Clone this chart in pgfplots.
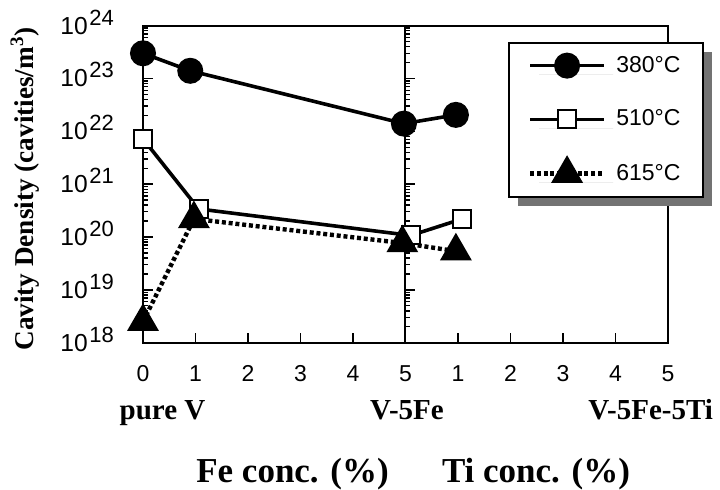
\documentclass[border=0pt]{standalone}
\usepackage{fontspec}
\setmainfont{Liberation Serif}
\newfontfamily\hv{Liberation Sans}
\usepackage{pgfplots}
\pgfplotsset{compat=1.18}
\usetikzlibrary{shadows}

\newcommand\tk{\hv\fontsize{11.5}{11.5}\selectfont}
\newcommand\ytk{\hv\fontsize{12.3}{12.3}\selectfont}
\newcommand\sups[1]{\hspace{0.8pt}\smash{\raisebox{4.5pt}{\hv\fontsize{11}{11}\selectfont #1}}}

\begin{document}
\begin{tikzpicture}
% secondary axis: the divider at x = 5 with its inner ticks
\begin{axis}[
  at={(202.75pt,73.65pt)}, anchor=south west,
  width=131.25pt, height=158.5pt, scale only axis,
  xmin=5, xmax=10,
  ymode=log, ymin=1e18, ymax=1e24,
  hide x axis,
  ytick={1e18,1e19,1e20,1e21,1e22,1e23,1e24},
  yticklabels={},
  ytick pos=left, tick align=inside,
  axis line style={line width=1pt},
  major tick length=5pt, minor tick length=2.5pt,
  every tick/.style={black, line width=0.7pt},
]
\end{axis}
\begin{axis}[
  at={(71.5pt,73.65pt)}, anchor=south west,
  width=262.5pt, height=158.5pt, scale only axis,
  xmin=0, xmax=10,
  ymode=log, ymin=1e18, ymax=1e24,
  xtick={0,1,2,3,4,5,6,7,8,9,10},
  xticklabels={0,1,2,3,4,5,1,2,3,4,5},
  ytick={1e18,1e19,1e20,1e21,1e22,1e23,1e24},
  yticklabels={10\sups{18},10\sups{19},10\sups{20},10\sups{21},10\sups{22},10\sups{23},10\sups{24}},
  tick pos=left, tick align=inside,
  minor x tick num=0,
  axis line style={line width=1pt},
  major tick length=5pt, minor tick length=2.5pt,
  every tick/.style={black, line width=0.7pt},
  xticklabel style={font=\tk, yshift=-8pt},
  yticklabel style={font=\ytk, anchor=east, xshift=-11pt},
  clip=false,
  legend style={
    at={(0.695,0.9495)}, anchor=north west,
    draw=black, line width=1pt, fill=white,
    drop shadow={shadow xshift=4.5pt, shadow yshift=-4.5pt, fill=black!55, opacity=1, draw=none},
    font=\hv\fontsize{11.5}{11.5}\selectfont,
    inner xsep=9.5pt, inner ysep=4.7pt,
    row sep=13.35pt, column sep=3pt,
    legend cell align=left,
  },
  legend image code/.code={%
    \draw[#1, mark repeat=2, mark phase=2] plot coordinates {(0pt,0pt) (18.5pt,0pt) (37pt,0pt)};},
]
\addplot[black, line width=1.8pt, mark=*, mark size=5.6pt, mark options={solid, fill=black}]
  coordinates {(0,3.0e23) (0.9,1.4e23) (4.97,1.4e22) (5.96,2.05e22)};
\addlegendentry{380°C}
\addplot[black, line width=1.8pt, mark=square*, mark size=4.5pt, mark options={solid, fill=white, line width=1pt}]
  coordinates {(0,7.2e21) (1.06,3.4e20) (5.1,1.07e20) (6.08,2.2e20)};
\addlegendentry{510°C}
\addplot[black, line width=2.2pt, dash pattern=on 2pt off 1.4pt, mark=triangle*, mark size=7pt, mark options={solid, fill=black}]
  coordinates {(0,2.5e18) (0.97,2.2e20) (4.94,7.7e19) (5.96,5.4e19)};
\addlegendentry{615°C}
\end{axis}

\node[font=\bfseries\fontsize{14.5}{14.5}\selectfont, anchor=base] at (81.25pt,35pt) {pure V};
\node[font=\bfseries\fontsize{14.5}{14.5}\selectfont, anchor=base] at (203.5pt,35pt) {V-5Fe};
\node[font=\bfseries\fontsize{14.5}{14.5}\selectfont, anchor=base west, inner sep=0pt] at (294pt,35pt) {V-5Fe-5Ti};
\node[font=\bfseries\fontsize{17.5}{17.5}\selectfont, anchor=base] at (146.25pt,3.5pt) {Fe conc. (\%)};
\node[font=\bfseries\fontsize{17.5}{17.5}\selectfont, anchor=base] at (268pt,3.5pt) {Ti conc. (\%)};
\node[font=\bfseries\fontsize{13.6}{13.6}\selectfont, rotate=90] at (12.5pt,150.5pt) {Cavity Density (cavities/m\textsuperscript{3})};

\pgfresetboundingbox
\path[use as bounding box] (0,0) rectangle (360pt,245pt);
\end{tikzpicture}
\end{document}
